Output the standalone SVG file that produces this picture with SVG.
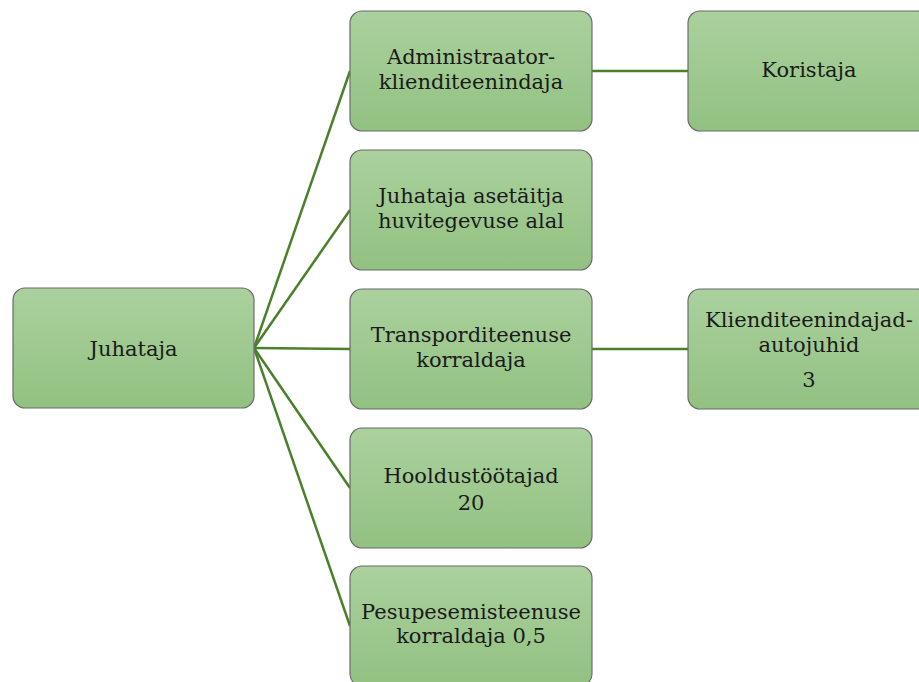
<svg xmlns="http://www.w3.org/2000/svg" width="919" height="682" viewBox="0 0 919 682">
<defs>
<linearGradient id="g" x1="0" y1="0" x2="0" y2="1">
<stop offset="0" stop-color="#abd19e"/>
<stop offset="1" stop-color="#92c181"/>
</linearGradient>
<style>
.box{fill:url(#g);stroke:#6b6b6b;stroke-width:1.2}
.t{font-family:"DejaVu Serif","Liberation Serif",serif;font-size:21px;fill:#1a1a1a;text-anchor:middle}
.c{stroke:#4c7f2c;stroke-width:2.5;fill:none}
</style>
</defs>
<rect width="919" height="682" fill="#ffffff"/>
<g id="connectors">
<line class="c" x1="254" y1="348" x2="350" y2="71"/>
<line class="c" x1="254" y1="348" x2="350" y2="210"/>
<line class="c" x1="254" y1="348" x2="350" y2="349"/>
<line class="c" x1="254" y1="348" x2="350" y2="488"/>
<line class="c" x1="254" y1="348" x2="350" y2="626"/>
<line class="c" x1="592" y1="71" x2="688" y2="71"/>
<line class="c" x1="592" y1="349" x2="688" y2="349"/>
</g>
<g id="juhataja">
<rect class="box" x="13" y="288" width="241" height="120" rx="12"/>
<text class="t" x="133.5" y="356">Juhataja</text>
</g>
<g id="administraator">
<rect class="box" x="350" y="11" width="242" height="120" rx="12"/>
<text class="t" x="471" y="64">Administraator-</text>
<text class="t" x="471" y="89">klienditeenindaja</text>
</g>
<g id="juhataja-asetaitja">
<rect class="box" x="350" y="150" width="242" height="120" rx="12"/>
<text class="t" x="471" y="203">Juhataja asetäitja</text>
<text class="t" x="471" y="228">huvitegevuse alal</text>
</g>
<g id="transport">
<rect class="box" x="350" y="289" width="242" height="120" rx="12"/>
<text class="t" x="471" y="342">Transporditeenuse</text>
<text class="t" x="471" y="367">korraldaja</text>
</g>
<g id="hooldus">
<rect class="box" x="350" y="428" width="242" height="120" rx="12"/>
<text class="t" x="471" y="483">Hooldustöötajad</text>
<text class="t" x="471" y="510">20</text>
</g>
<g id="pesu">
<rect class="box" x="350" y="566" width="242" height="120" rx="12"/>
<text class="t" x="471" y="619">Pesupesemisteenuse</text>
<text class="t" x="471" y="643">korraldaja 0,5</text>
</g>
<g id="koristaja">
<rect class="box" x="688" y="11" width="242" height="120" rx="12"/>
<text class="t" x="809" y="77">Koristaja</text>
</g>
<g id="autojuhid">
<rect class="box" x="688" y="289" width="242" height="120" rx="12"/>
<text class="t" x="809" y="327">Klienditeenindajad-</text>
<text class="t" x="809" y="352">autojuhid</text>
<text class="t" x="809" y="387">3</text>
</g>
</svg>
